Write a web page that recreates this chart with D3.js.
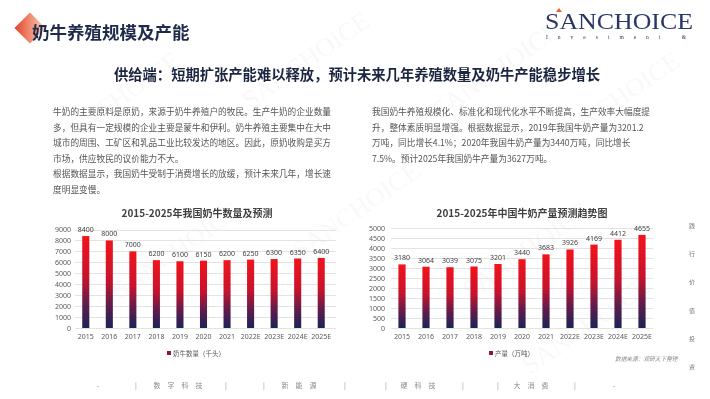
<!DOCTYPE html>
<html>
<head>
<meta charset="utf-8">
<script src="https://cdn.jsdelivr.net/npm/d3@7"></script>
<style>
  html, body { margin: 0; padding: 0; background: #fff; }
  svg { display: block; font-family: "Noto Sans", "Noto Sans CJK SC", sans-serif; }
</style>
</head>
<body>
<svg></svg>
<script>
const W = 710, H = 399;

// data
const years = ["2015", "2016", "2017", "2018", "2019", "2020", "2021", "2022E", "2023E", "2024E", "2025E"];
const cowCount = [8400, 8000, 7000, 6200, 6100, 6150, 6200, 6250, 6300, 6350, 6400];
const milkOutput = [3180, 3064, 3039, 3075, 3201, 3440, 3683, 3926, 4169, 4412, 4655];
const cowTicks = [0, 1000, 2000, 3000, 4000, 5000, 6000, 7000, 8000, 9000];
const milkTicks = [0, 500, 1000, 1500, 2000, 2500, 3000, 3500, 4000, 4500, 5000];

const leftText = [
  "牛奶的主要原料是原奶，来源于奶牛养殖户的牧民。生产牛奶的企业数量",
  "多，但具有一定规模的企业主要是蒙牛和伊利。奶牛养殖主要集中在大中",
  "城市的周围、工矿区和乳品工业比较发达的地区。因此，原奶收购是买方",
  "市场，供应牧民的议价能力不大。",
  "根据数据显示，我国奶牛受制于消费增长的放缓，预计未来几年，增长速",
  "度明显变慢。"
];
const rightText = [
  "我国奶牛养殖规模化、标准化和现代化水平不断提高，生产效率大幅度提",
  "升，整体素质明显增强。根据数据显示，2019年我国牛奶产量为3201.2",
  "万吨，同比增长4.1%；2020年我国牛奶产量为3440万吨，同比增长",
  "7.5%。预计2025年我国奶牛产量为3627万吨。"
];
const sideWords = ["践", "行", "价", "值", "投", "资"];

const svg = d3.select("svg").attr("width", W).attr("height", H);
const defs = svg.append("defs");

// bar gradient: red at top fading to navy at the base
const grad = defs.append("linearGradient").attr("id", "barGrad")
    .attr("x1", 0).attr("y1", 0).attr("x2", 0).attr("y2", 1);
[["0%", "#f2141b"], ["45%", "#c8132c"], ["75%", "#5c1c4c"], ["100%", "#1d2357"]].forEach(function(s) {
  grad.append("stop").attr("offset", s[0]).attr("stop-color", s[1]);
});
const dia = defs.append("linearGradient").attr("id", "diaGrad")
    .attr("x1", 0).attr("y1", 1).attr("x2", 1).attr("y2", 0);
dia.append("stop").attr("offset", "0%").attr("stop-color", "#e4432a");
dia.append("stop").attr("offset", "100%").attr("stop-color", "#fbd3bd");

// faint watermark, kept inside the page
const wmPos = [[60, 150], [250, 110], [440, 120], [560, 150], [120, 300], [300, 260], [470, 300], [530, 375]];
svg.append("g").attr("fill", "#000").attr("opacity", 0.03)
    .style("font-family", "Liberation Serif, serif").style("font-size", "26px")
  .selectAll("text").data(wmPos).enter().append("text")
    .attr("transform", function(d) { return "translate(" + d[0] + "," + d[1] + ") rotate(-35)"; })
    .text("SANCHOICE");

// header
svg.append("rect").attr("x", 19).attr("y", 17).attr("width", 22).attr("height", 22)
    .attr("transform", "rotate(45,30,28)").attr("fill", "url(#diaGrad)");
svg.append("text").attr("x", 32).attr("y", 39)
    .attr("font-size", 17.5).attr("font-weight", "bold").attr("fill", "#1f2b4a")
    .style("font-family", "Noto Sans CJK SC")
    .text("奶牛养殖规模及产能");

svg.append("text").attr("x", 545).attr("y", 29)
    .attr("font-size", 22.5).attr("fill", "#2a3766")
    .style("font-family", "Liberation Serif, serif")
    .attr("textLength", 148).attr("lengthAdjust", "spacingAndGlyphs")
    .text("SANCHOICE");
svg.append("path").attr("d", "M556,12 l3,-4 l3,4 z").attr("fill", "#e8602a");
svg.append("text").attr("x", 546).attr("y", 39)
    .attr("font-size", 5.5).attr("fill", "#2a3766")
    .style("font-family", "Liberation Serif, serif")
    .attr("textLength", 140).attr("lengthAdjust", "spacing")
    .text("Investment &");

svg.append("text").attr("x", 357).attr("y", 80).attr("text-anchor", "middle")
    .attr("font-size", 14.3).attr("font-weight", "bold").attr("fill", "#1c2540")
    .style("font-family", "Noto Sans CJK SC")
    .text("供给端：短期扩张产能难以释放，预计未来几年养殖数量及奶牛产能稳步增长");

// paragraphs
function para(lines, x, y0) {
  svg.append("g").selectAll("text").data(lines).enter().append("text")
    .attr("x", x).attr("y", function(d, i) { return y0 + i * 15.5; })
    .attr("font-size", 8.7).attr("fill", "#555")
    .style("font-family", "Noto Sans CJK SC")
    .text(function(d) { return d; });
}
para(leftText, 53, 115);
para(rightText, 372, 115);

// bar chart helper
function barChart(opt) {
  const g = svg.append("g");
  const x = d3.scaleBand().domain(years).range(opt.xr).paddingInner(0.7).paddingOuter(0.35);
  const y = d3.scaleLinear().domain([0, opt.max]).range([328, opt.top]);

  g.append("text").attr("x", opt.titleX).attr("y", 217).attr("text-anchor", "middle")
    .attr("font-size", 10).attr("font-weight", "bold").attr("fill", "#404040")
    .style("font-family", "Noto Sans CJK SC")
    .text(opt.title);

  g.append("g").selectAll("line").data(opt.ticks).enter().append("line")
    .attr("x1", opt.grid[0]).attr("x2", opt.grid[1])
    .attr("y1", function(d) { return Math.round(y(d)) + 0.5; })
    .attr("y2", function(d) { return Math.round(y(d)) + 0.5; })
    .attr("stroke", "#dcdcdc").attr("stroke-width", 0.8);

  const ax = g.append("g").attr("transform", "translate(" + opt.labelX + ",0)")
    .call(d3.axisLeft(y).tickValues(opt.ticks).tickFormat(d3.format("d")).tickSize(0).tickPadding(0));
  ax.select(".domain").remove();
  ax.selectAll("text").attr("font-size", 7).attr("fill", "#595959").style("font-family", "Noto Sans");

  const bx = g.append("g").attr("transform", "translate(0,331)")
    .call(d3.axisBottom(x).tickSize(0).tickPadding(3));
  bx.select(".domain").remove();
  bx.selectAll("text").attr("font-size", 7).attr("fill", "#595959").style("font-family", "Noto Sans");

  g.append("g").selectAll("rect").data(opt.values).enter().append("rect")
    .attr("x", function(d, i) { return x(years[i]); })
    .attr("y", function(d) { return y(d); })
    .attr("width", x.bandwidth())
    .attr("height", function(d) { return 328 - y(d); })
    .attr("fill", "url(#barGrad)");

  g.append("g").selectAll("text").data(opt.values).enter().append("text")
    .attr("x", function(d, i) { return x(years[i]) + x.bandwidth() / 2; })
    .attr("y", function(d) { return y(d) - 4; })
    .attr("text-anchor", "middle").attr("font-size", 7).attr("fill", "#404040")
    .style("font-family", "Noto Sans")
    .text(function(d) { return d; });

  g.append("rect").attr("x", opt.legX).attr("y", 351).attr("width", 4).attr("height", 4).attr("fill", "#8e1838");
  g.append("text").attr("x", opt.legX + 6).attr("y", 355.5)
    .attr("font-size", 6.5).attr("fill", "#595959").style("font-family", "Noto Sans CJK SC")
    .text(opt.legend);
}

barChart({ values: cowCount, ticks: cowTicks, max: 9000, top: 229.5, xr: [74, 333], grid: [75, 336],
  labelX: 71, titleX: 197, title: "2015-2025年我国奶牛数量及预测", legX: 167, legend: "奶牛数量（千头）" });
barChart({ values: milkOutput, ticks: milkTicks, max: 5000, top: 228, xr: [390, 654], grid: [391, 653],
  labelX: 385, titleX: 522, title: "2015-2025年中国牛奶产量预测趋势图", legX: 489, legend: "产量（万吨）" });

svg.append("text").attr("x", 615).attr("y", 361)
    .attr("font-size", 5.7).attr("fill", "#8a8a8a").attr("font-style", "italic")
    .style("font-family", "Noto Sans CJK SC")
    .text("数据来源：观研天下整理");

// vertical slogan on the right edge
svg.append("g").selectAll("text").data(sideWords).enter().append("text")
  .attr("x", 692).attr("y", function(d, i) { return 228 + i * 28.2; })
  .attr("text-anchor", "middle").attr("font-size", 6).attr("fill", "#777")
  .style("font-family", "Noto Sans CJK SC")
  .text(function(d) { return d; });

// footer navigation
const footer = [["-", 98], ["|", 136], ["数字科技", 178], ["|", 226], ["|", 264], ["新能源", 299],
  ["|", 345], ["|", 386], ["硬科技", 418], ["|", 463], ["|", 498], ["大消费", 531], ["|", 575], ["-", 614]];
svg.append("g").selectAll("text").data(footer).enter().append("text")
  .attr("x", function(d) { return d[1]; }).attr("y", 388)
  .attr("text-anchor", "middle").attr("font-size", 7).attr("fill", "#8a8a8a")
  .attr("letter-spacing", function(d) { return d[0].length > 1 ? 7 : 0; })
  .attr("dx", function(d) { return d[0].length > 1 ? 3.5 : 0; })
  .style("font-family", "Noto Sans CJK SC")
  .text(function(d) { return d[0]; });
</script>
</body>
</html>
